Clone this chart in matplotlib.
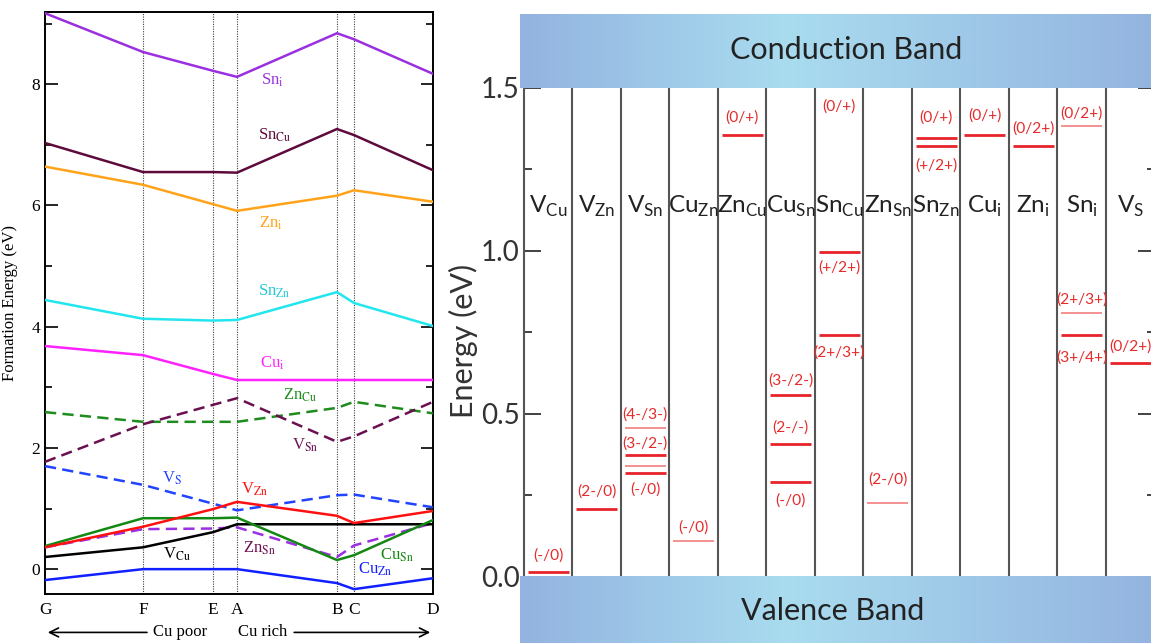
import numpy as np
import matplotlib
matplotlib.use('Agg')
import matplotlib.pyplot as plt
from matplotlib.colors import LinearSegmentedColormap

# ---------------- left panel: formation energies along the chemical potential path
path_points = ['G', 'F', 'E', 'A', 'B', 'C', 'D']
path_x = [0.0, 0.98, 1.68, 1.92, 2.92, 3.09, 3.88]

sn_i = [9.17, 8.53, 8.22, 8.12, 8.84, 8.74, 8.17]
sn_cu = [7.03, 6.55, 6.55, 6.54, 7.26, 7.16, 6.58]
zn_i = [6.64, 6.34, 6.02, 5.91, 6.16, 6.25, 6.06]
sn_zn = [4.44, 4.13, 4.10, 4.11, 4.57, 4.39, 4.01]
cu_i = [3.68, 3.53, 3.22, 3.12, 3.12, 3.12, 3.12]
zn_cu = [2.59, 2.43, 2.43, 2.43, 2.66, 2.76, 2.57]
v_sn = [1.77, 2.39, 2.71, 2.82, 2.10, 2.19, 2.76]
v_s = [1.70, 1.39, 1.08, 0.97, 1.22, 1.23, 1.02]
v_zn = [0.36, 0.70, 0.99, 1.11, 0.88, 0.76, 0.96]
cu_sn = [0.38, 0.84, 0.84, 0.85, 0.15, 0.23, 0.81]
zn_sn = [0.36, 0.66, 0.67, 0.69, 0.20, 0.39, 0.76]
v_cu = [0.20, 0.36, 0.61, 0.74, 0.74, 0.74, 0.74]
cu_zn = [-0.18, 0.0, 0.0, 0.0, -0.23, -0.33, -0.15]

# ---------------- right panel: transition levels in the gap
defect_names = [('V', 'Cu'), ('V', 'Zn'), ('V', 'Sn'), ('Cu', 'Zn'), ('Zn', 'Cu'),
                ('Cu', 'Sn'), ('Sn', 'Cu'), ('Zn', 'Sn'), ('Sn', 'Zn'), ('Cu', 'i'),
                ('Zn', 'i'), ('Sn', 'i'), ('V', 'S')]
band_gap = 1.5

level_col = [0, 1, 2, 2, 2, 2, 3, 4, 5, 5, 5, 6, 6, 7, 8, 8, 9, 10, 11, 11, 11, 12]
level_e = [0.015, 0.21, 0.457, 0.374, 0.340, 0.319, 0.11, 1.356, 0.558, 0.408, 0.291,
           0.997, 0.742, 0.227, 1.347, 1.322, 1.356, 1.322, 1.383, 0.81, 0.742, 0.656]
level_bold = [1, 1, 0, 1, 0, 1, 0, 1, 1, 1, 1, 1, 1, 0, 1, 1, 1, 1, 0, 0, 1, 1]

label_col = [0, 1, 2, 2, 2, 3, 4, 5, 5, 5, 6, 6, 6, 7, 8, 8, 9, 10, 11, 11, 11, 12]
label_e = [0.067, 0.261, 0.497, 0.408, 0.267, 0.153, 1.408, 0.604, 0.457, 0.236,
           1.442, 0.948, 0.687, 0.298, 1.408, 1.261, 1.417, 1.377, 1.423, 0.85, 0.672, 0.706]
label_text = ['(-/0)', '(2-/0)', '(4-/3-)', '(3-/2-)', '(-/0)', '(-/0)', '(0/+)',
              '(3-/2-)', '(2-/-)', '(-/0)', '(0/+)', '(+/2+)', '(2+/3+)', '(2-/0)',
              '(0/+)', '(+/2+)', '(0/+)', '(0/2+)', '(0/2+)', '(2+/3+)', '(3+/4+)', '(0/2+)']

NARROW = ['Lato', 'DejaVu Sans']
SERIF = ['Liberation Serif', 'DejaVu Serif']
plt.rcParams['mathtext.fontset'] = 'custom'
plt.rcParams['mathtext.rm'] = 'Lato'

fig = plt.figure(figsize=(11.51, 6.43), dpi=100)

# ================= left panel
ax1 = fig.add_axes([45 / 1151, 49 / 643, 388 / 1151, 582 / 643])

# (values, line colour, dashed, label, subscript, label x, label y, label colour)
series = [
    (sn_i, '#9a30e0', False, 'Sn', 'i', 2.16, 8.00, '#9a30e0'),
    (sn_cu, '#5e0a3c', False, 'Sn', 'Cu', 2.13, 7.08, '#5e0a3c'),
    (zn_i, '#ffa31a', False, 'Zn', 'i', 2.14, 5.63, '#ffa31a'),
    (sn_zn, '#22e6ee', False, 'Sn', 'Zn', 2.13, 4.52, '#22c8d8'),
    (cu_i, '#ff22ff', False, 'Cu', 'i', 2.15, 3.32, '#ff22ff'),
    (zn_cu, '#1e8c1e', True, 'Zn', 'Cu', 2.38, 2.79, '#1e8c1e'),
    (v_sn, '#6a1050', True, 'V', 'Sn', 2.47, 1.98, '#6a1050'),
    (v_s, '#2244ff', True, 'V', 'S', 1.17, 1.42, '#2244ff'),
    (zn_sn, '#9a30e0', True, 'Zn', 'Sn', 1.98, 0.28, '#6a1050'),
    (v_cu, '#000000', False, 'V', 'Cu', 1.18, 0.18, '#000000'),
    (cu_sn, '#138813', False, 'Cu', 'Sn', 3.35, 0.15, '#138813'),
    (v_zn, '#ff1010', False, 'V', 'Zn', 1.96, 1.25, '#ff1010'),
    (cu_zn, '#1020ff', False, 'Cu', 'Zn', 3.13, -0.07, '#1020ff'),
]

for vals, col, dashed, main, sub, lx, ly, lcol in series:
    ls = (0, (4.5, 2.5)) if dashed else '-'
    ax1.plot(path_x, vals, color=col, lw=1.8, ls=ls, zorder=3)
    ax1.text(lx, ly, main + r'$_{\mathrm{' + sub + '}}$', color=lcol, fontsize=12,
             family=SERIF, math_fontfamily='stix', va='baseline', zorder=4)

for x in path_x[1:-1]:
    ax1.axvline(x, color='0.25', lw=0.8, ls=(0, (1, 1.2)), zorder=1)

ax1.set_xlim(path_x[0], path_x[-1])
ax1.set_ylim(-0.41, 9.19)
ax1.set_xticks(path_x)
ax1.set_xticklabels(path_points, family=SERIF, fontsize=12.5)
ax1.tick_params(axis='x', length=0, pad=6)
ax1.set_yticks([0, 2, 4, 6, 8])
ax1.set_yticks([1, 3, 5, 7, 9], minor=True)
ax1.set_yticklabels(['0', '2', '4', '6', '8'], family=SERIF, fontsize=12.5)
ax1.tick_params(axis='y', which='both', direction='in', left=True, right=True, width=1.2)
ax1.tick_params(axis='y', which='major', length=9)
ax1.tick_params(axis='y', which='minor', length=5)
for sp in ax1.spines.values():
    sp.set_linewidth(1.4)
ax1.set_ylabel('Formation Energy (eV)', family=SERIF, fontsize=12)
ax1.yaxis.set_label_coords(-0.07, 0.5)

arrow_y = -0.066
ax1.annotate('', xy=(0.0, arrow_y), xytext=(0.27, arrow_y), xycoords='axes fraction',
             arrowprops=dict(arrowstyle='->', lw=1.2, color='k', mutation_scale=16))
ax1.annotate('', xy=(1.0, arrow_y), xytext=(0.635, arrow_y), xycoords='axes fraction',
             arrowprops=dict(arrowstyle='->', lw=1.2, color='k', mutation_scale=16))
ax1.text(0.348, arrow_y, 'Cu poor', transform=ax1.transAxes, ha='center', va='center',
         family=SERIF, fontsize=12)
ax1.text(0.562, arrow_y, 'Cu rich', transform=ax1.transAxes, ha='center', va='center',
         family=SERIF, fontsize=12)

# ================= right panel
ncol = len(defect_names)
ax2 = fig.add_axes([520 / 1151, 0, 634.5 / 1151, 629 / 643])
ax2.set_xlim(-0.08, ncol)
ax2.set_ylim(-0.2025, 1.727)

band_cmap = LinearSegmentedColormap.from_list(
    'band', [(0.0, '#93b3e0'), (0.42, '#a9dcef'), (1.0, '#94b4e0')])
grad = np.linspace(0, 1, 256).reshape(1, -1)
ax2.imshow(grad, cmap=band_cmap, extent=(-0.08, ncol, band_gap, 1.727),
           aspect='auto', zorder=3)
ax2.imshow(grad, cmap=band_cmap, extent=(-0.08, ncol, -0.2025, 0),
           aspect='auto', zorder=3)
ax2.text(6.64, 1.617, 'Conduction Band', ha='center', va='center', fontsize=22,
         family=NARROW, color='#222222', zorder=4)
ax2.text(6.36, -0.105, 'Valence Band', ha='center', va='center', fontsize=22,
         family=NARROW, color='#222222', zorder=4)

ax2.vlines(np.arange(1, ncol), 0, band_gap, color='#555555', lw=1.5, zorder=1)
for side, pos in (('left', 0), ('right', ncol)):
    ax2.spines[side].set_position(('data', pos))
    ax2.spines[side].set_bounds(0, band_gap)
    ax2.spines[side].set_color('#555555')
    ax2.spines[side].set_linewidth(1.5)
ax2.spines['top'].set_visible(False)
ax2.spines['bottom'].set_visible(False)

ax2.set_xticks([])
ax2.set_yticks([0, 0.5, 1.0, 1.5])
ax2.set_yticks([0.25, 0.75, 1.25], minor=True)
ax2.set_yticklabels(['0.0', '0.5', '1.0', '1.5'], family=NARROW, fontsize=20,
                    color='#333333')
ax2.tick_params(axis='y', which='both', direction='in', left=True, right=True,
                color='#333333', width=1.3, pad=3)
ax2.tick_params(axis='y', which='major', length=12)
ax2.tick_params(axis='y', which='minor', length=6)
ax2.set_ylabel('Energy (eV)', family=NARROW, fontsize=22, color='#333333')
ax2.yaxis.set_label_coords(-0.066, 0.48)

for i, (main, sub) in enumerate(defect_names):
    ax2.text(i + 0.5, 1.117, main + r'$_{\mathrm{' + sub + '}}$', ha='center',
             va='baseline', fontsize=17.5, family=NARROW, math_fontfamily='custom',
             color='#222222', zorder=2)

for c, e, b in zip(level_col, level_e, level_bold):
    if b:
        ax2.hlines(e, c + 0.08, c + 0.92, color='#e8232a', lw=2.0, zorder=2)
    else:
        ax2.hlines(e, c + 0.08, c + 0.92, color='#f39090', lw=1.4, zorder=2)

for c, e, t in zip(label_col, label_e, label_text):
    ax2.text(c + 0.5, e, t, ha='center', va='center', fontsize=11.2, family=NARROW,
             color='#e52b2b', zorder=2)

fig.savefig('out.png', dpi=100)
